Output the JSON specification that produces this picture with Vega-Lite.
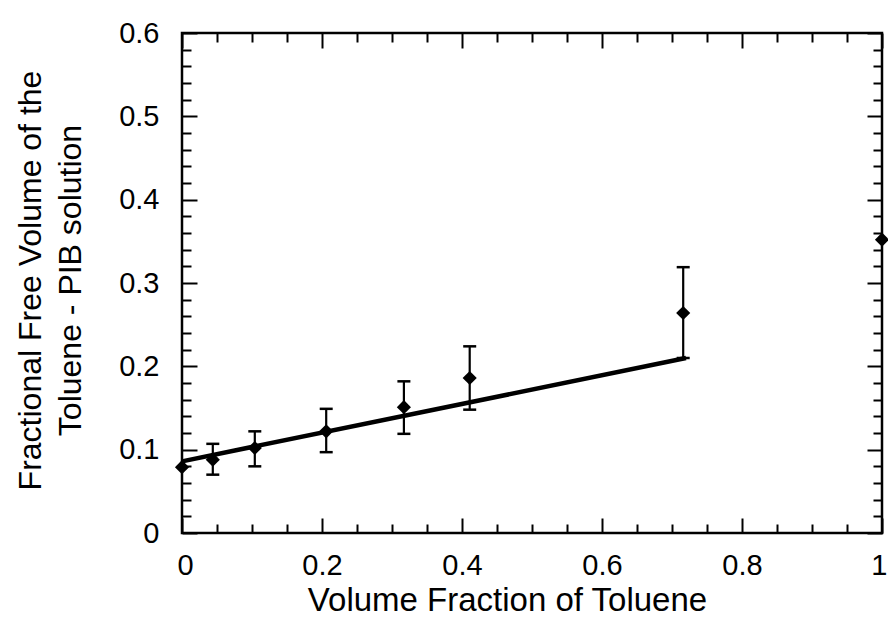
{
  "$schema": "https://vega.github.io/schema/vega-lite/v6.json",
  "autosize": "none",
  "padding": {"left": 182, "top": 33, "right": 6, "bottom": 98},
  "width": 700,
  "height": 500,
  "background": "white",
  "config": {
    "view": {"stroke": "black", "strokeWidth": 2.5},
    "axis": {
      "domain": false,
      "grid": false,
      "tickColor": "black",
      "tickWidth": 2,
      "labelFont": "Liberation Sans",
      "titleFont": "Liberation Sans",
      "labelColor": "black",
      "titleColor": "black",
      "titleFontWeight": "normal",
      "labelFontSize": 29
    }
  },
  "datasets": {
    "fit": [
      {"phi": 0, "ffv": 0.086},
      {"phi": 0.72, "ffv": 0.21}
    ],
    "pts": [
      {"phi": 0, "ffv": 0.079},
      {"phi": 0.044, "ffv": 0.088},
      {"phi": 0.104, "ffv": 0.102},
      {"phi": 0.206, "ffv": 0.122},
      {"phi": 0.317, "ffv": 0.151},
      {"phi": 0.411, "ffv": 0.186},
      {"phi": 0.716, "ffv": 0.264},
      {"phi": 1.0, "ffv": 0.352}
    ],
    "err": [
      {"phi": 0.044, "lo": 0.07, "hi": 0.107},
      {"phi": 0.104, "lo": 0.08, "hi": 0.122},
      {"phi": 0.206, "lo": 0.097, "hi": 0.149},
      {"phi": 0.317, "lo": 0.119, "hi": 0.182},
      {"phi": 0.411, "lo": 0.148, "hi": 0.224},
      {"phi": 0.716, "lo": 0.21, "hi": 0.319}
    ]
  },
  "layer": [
    {
      "data": {"name": "fit"},
      "mark": {"type": "line", "color": "black", "strokeWidth": 4.5, "strokeCap": "butt"},
      "encoding": {
        "x": {
          "field": "phi", "type": "quantitative",
          "scale": {"domain": [0, 1], "nice": false},
          "axis": {
            "orient": "bottom",
            "values": [0, 0.2, 0.4, 0.6, 0.8, 1],
            "format": "~g",
            "tickSize": -15,
            "labelFontSize": 29,
            "labelPadding": 56,
            "labelBaseline": "alphabetic",
            "labelFlush": true,
            "labelFlushOffset": 5,
            "title": "Volume Fraction of Toluene",
            "titleFontSize": 33,
            "titleBaseline": "alphabetic",
            "titleX": 325,
            "titleY": 77,
            "titleAnchor": null
          }
        },
        "y": {
          "field": "ffv", "type": "quantitative",
          "scale": {"domain": [0, 0.6], "nice": false},
          "axis": {
            "orient": "left",
            "values": [0, 0.1, 0.2, 0.3, 0.4, 0.5, 0.6],
            "format": "~g",
            "tickSize": -15,
            "labelFontSize": 29,
            "labelPadding": 38,
            "labelFlush": false,
            "title": ["Fractional Free Volume of the", "Toluene - PIB solution"],
            "titleFontSize": 32,
            "titleLineHeight": 40,
            "titleAngle": -90,
            "titleAlign": "center",
            "titleBaseline": "alphabetic",
            "titleX": -142,
            "titleY": 247
          }
        }
      }
    },
    {
      "data": {"name": "err"},
      "mark": {"type": "rule", "color": "black", "strokeWidth": 2.2},
      "encoding": {
        "x": {
          "field": "phi", "type": "quantitative",
          "scale": {"domain": [0, 1], "nice": false},
          "axis": {"orient": "top", "values": [0, 0.2, 0.4, 0.6, 0.8, 1], "tickSize": -15, "labels": false, "title": null}
        },
        "y": {
          "field": "lo", "type": "quantitative",
          "scale": {"domain": [0, 0.6], "nice": false},
          "axis": {"orient": "right", "values": [0, 0.1, 0.2, 0.3, 0.4, 0.5, 0.6], "tickSize": -15, "labels": false, "title": null}
        },
        "y2": {"field": "hi"}
      }
    },
    {
      "data": {"name": "err"},
      "transform": [{"fold": ["lo", "hi"], "as": ["end", "val"]}],
      "mark": {"type": "tick", "orient": "horizontal", "color": "black", "size": 13, "thickness": 2.5, "opacity": 1},
      "encoding": {
        "x": {
          "field": "phi", "type": "quantitative",
          "scale": {"domain": [0, 1], "nice": false},
          "axis": {"orient": "bottom", "values": [0.05, 0.1, 0.15, 0.25, 0.3, 0.35, 0.45, 0.5, 0.55, 0.65, 0.7, 0.75, 0.85, 0.9, 0.95], "tickSize": -9, "labels": false, "title": null}
        },
        "y": {
          "field": "val", "type": "quantitative",
          "scale": {"domain": [0, 0.6], "nice": false},
          "axis": {"orient": "left", "values": [0.02, 0.04, 0.06, 0.08, 0.12, 0.14, 0.16, 0.18, 0.22, 0.24, 0.26, 0.28, 0.32, 0.34, 0.36, 0.38, 0.42, 0.44, 0.46, 0.48, 0.52, 0.54, 0.56, 0.58], "tickSize": -9, "labels": false, "title": null}
        }
      }
    },
    {
      "data": {"name": "pts"},
      "mark": {"type": "point", "shape": "diamond", "filled": true, "color": "black", "size": 200, "opacity": 1},
      "encoding": {
        "x": {
          "field": "phi", "type": "quantitative",
          "scale": {"domain": [0, 1], "nice": false},
          "axis": {"orient": "top", "values": [0.05, 0.1, 0.15, 0.25, 0.3, 0.35, 0.45, 0.5, 0.55, 0.65, 0.7, 0.75, 0.85, 0.9, 0.95], "tickSize": -9, "labels": false, "title": null}
        },
        "y": {
          "field": "ffv", "type": "quantitative",
          "scale": {"domain": [0, 0.6], "nice": false},
          "axis": {"orient": "right", "values": [0.02, 0.04, 0.06, 0.08, 0.12, 0.14, 0.16, 0.18, 0.22, 0.24, 0.26, 0.28, 0.32, 0.34, 0.36, 0.38, 0.42, 0.44, 0.46, 0.48, 0.52, 0.54, 0.56, 0.58], "tickSize": -9, "labels": false, "title": null}
        }
      }
    }
  ],
  "resolve": {"axis": {"x": "independent", "y": "independent"}}
}
